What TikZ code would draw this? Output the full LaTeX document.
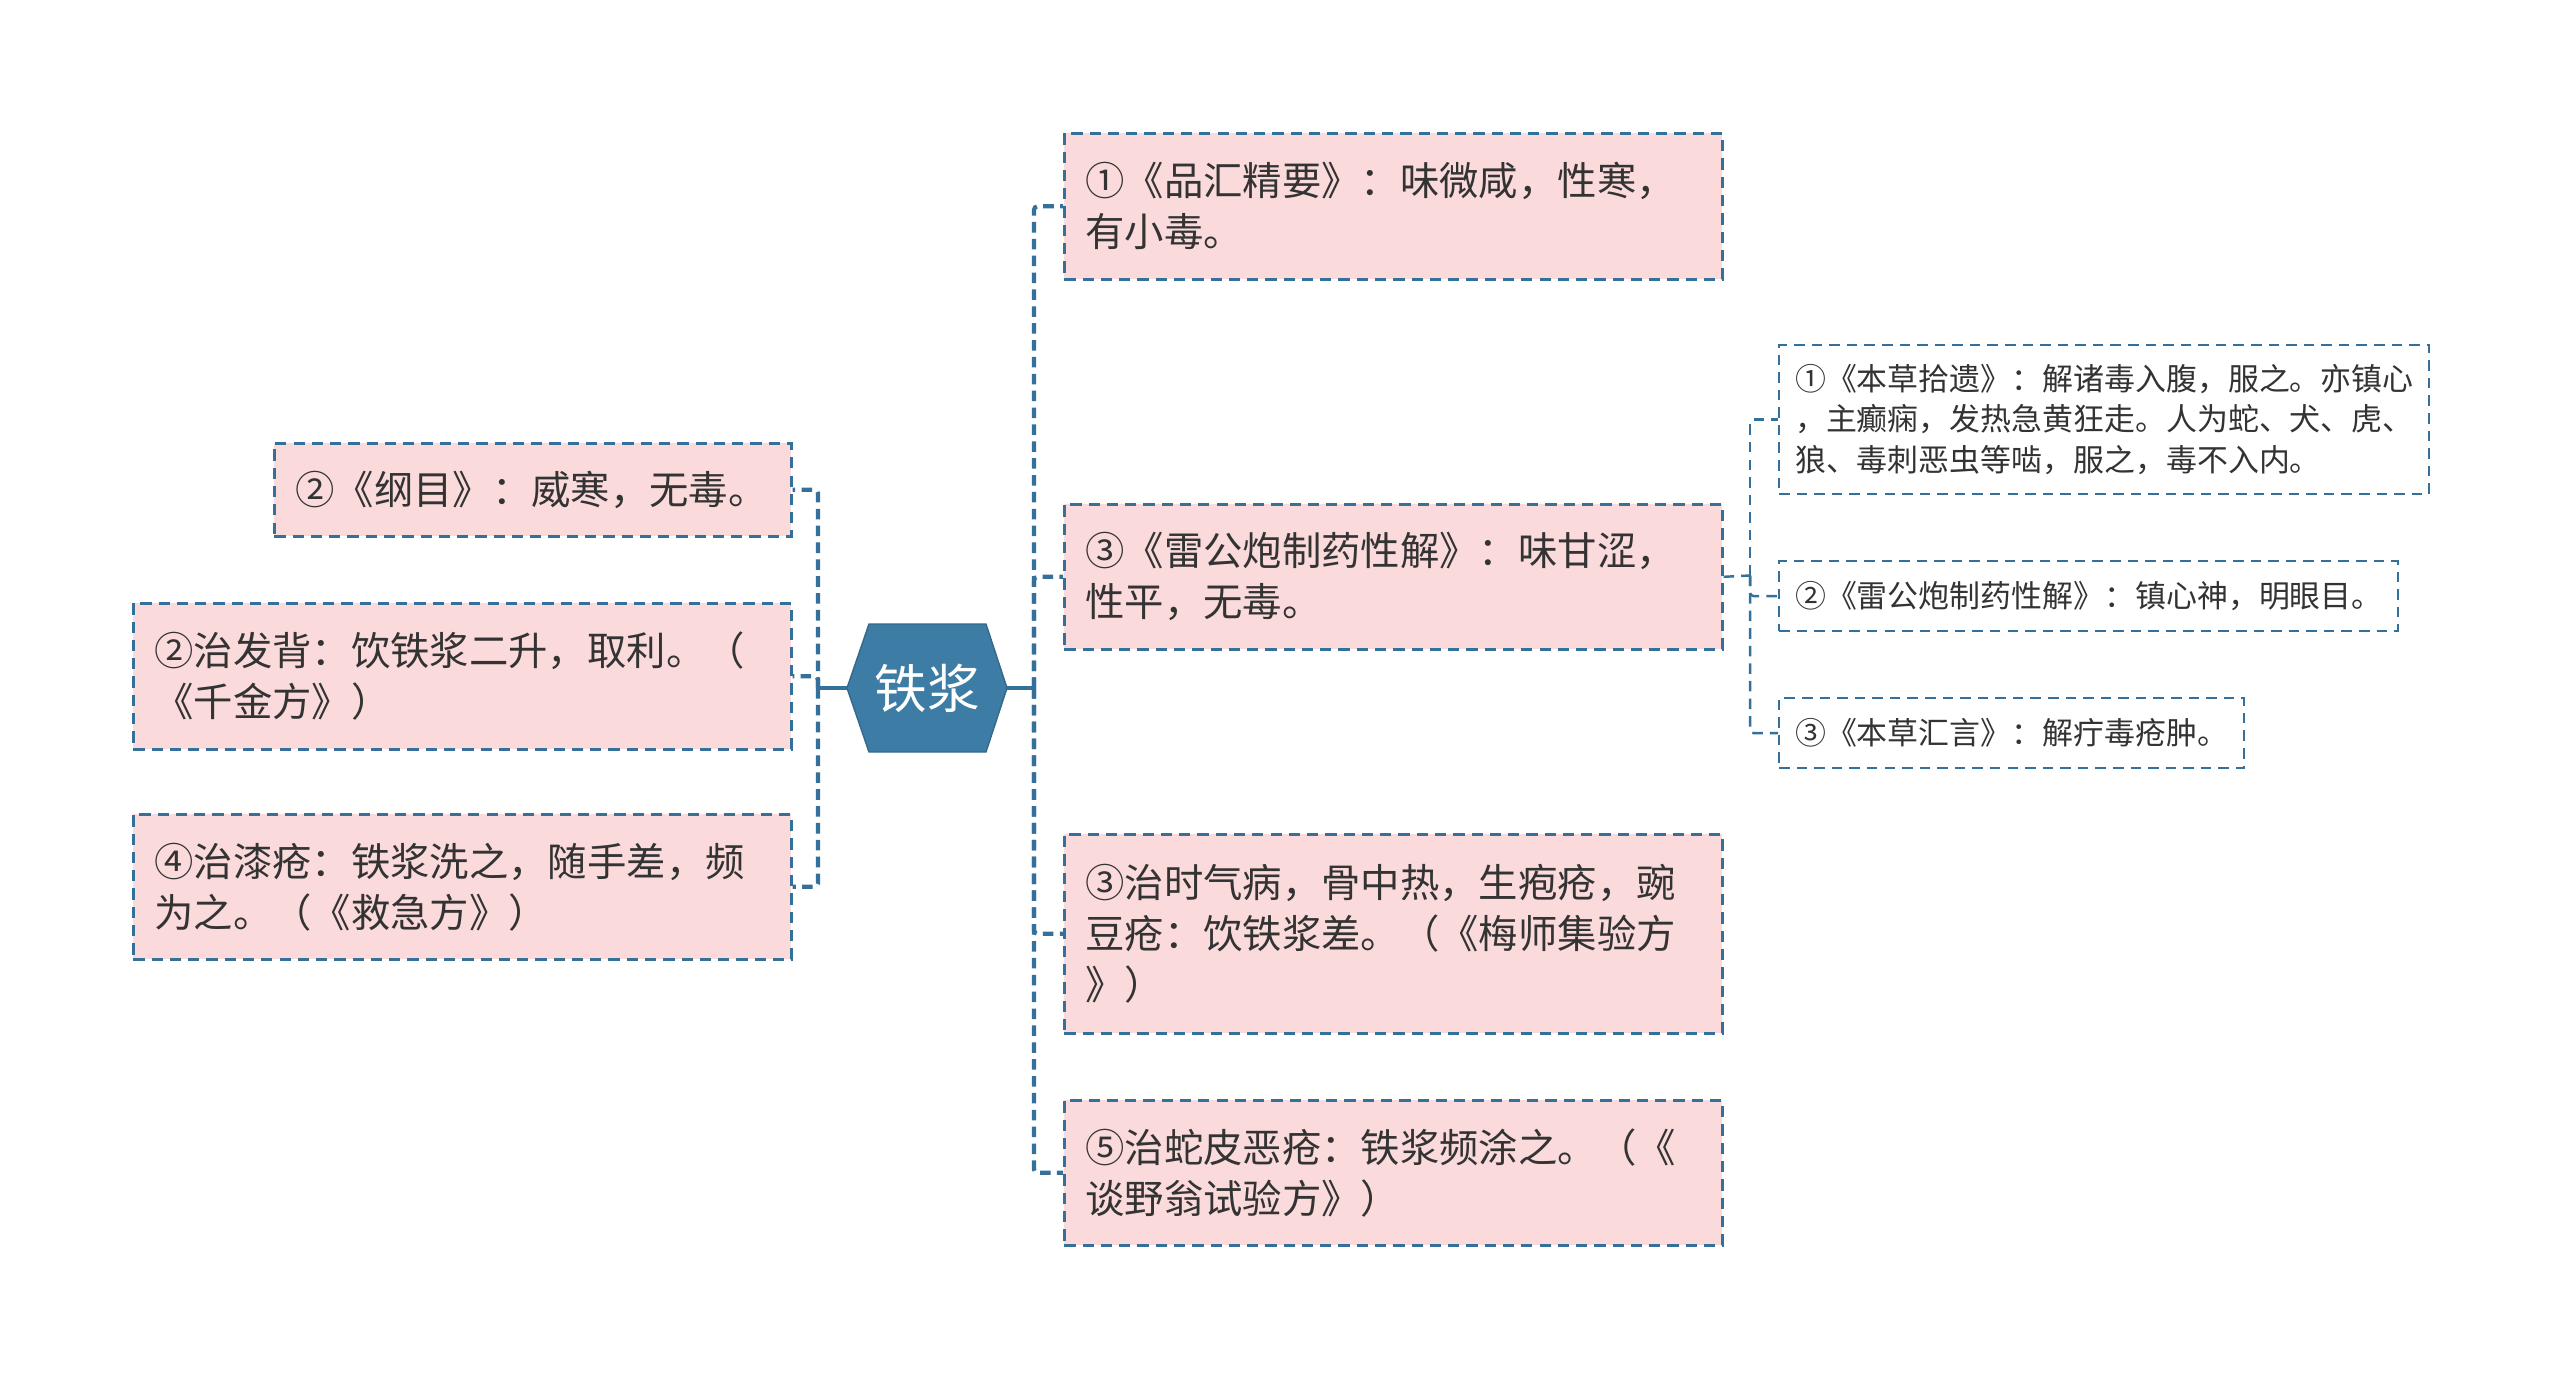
\documentclass[tikz,border=0pt]{standalone}
\usepackage{fontspec}
\setmainfont{Noto Sans CJK SC}
\usepackage{xcolor}
\usepackage{tikz}
\usetikzlibrary{calc}
\definecolor{Edge}{HTML}{34709A}
\definecolor{Petal}{HTML}{FADADB}
\definecolor{HubFill}{HTML}{3D7CA5}
\definecolor{Ink}{HTML}{333333}

\tikzset{
  leaf/.style={draw=Edge, dashed, dash pattern=on 3.2pt off 2pt, line width=0.75pt,
    fill=Petal, text=Ink, align=left, anchor=north west, inner xsep=0.21cm, inner ysep=2pt,
    font=\fontsize{11.2pt}{14.5pt}\selectfont},
  twig/.style={draw=Edge, dashed, dash pattern=on 3pt off 2pt, line width=0.6pt,
    fill=white, text=Ink, align=left, anchor=north west, inner xsep=0.16cm, inner ysep=2pt,
    font=\fontsize{8.8pt}{11.4pt}\selectfont},
  trunk/.style={draw=Edge, line width=1.2pt, dash pattern=on 3pt off 1.8pt, rounded corners=1pt},
  subtrunk/.style={draw=Edge, line width=0.7pt, dash pattern=on 3pt off 2pt, rounded corners=1pt},
  stem/.style={draw=Edge, line width=1.2pt}
}

\begin{document}
\begin{tikzpicture}
  \useasboundingbox (0,0) rectangle (25.6,-13.77);

  % central hexagon
  \coordinate (hubW) at (8.47,-6.88);
  \coordinate (hubE) at (10.07,-6.88);
  \fill[HubFill, draw=HubFill!85!black, line width=0.4pt] (hubW) -- (8.69,-6.24) -- (9.86,-6.24)
    -- (hubE) -- (9.86,-7.52) -- (8.69,-7.52) -- cycle;
  \node[text=white, font=\fontsize{15pt}{18pt}\selectfont] (hub) at (9.27,-6.88) {铁浆};

  % right column
  \node[leaf, text width=6.16cm, minimum height=1.46cm] (r1) at (10.63,-1.32)
    {①《品汇精要》：味微咸，性寒，\\有小毒。};
  \node[leaf, text width=6.16cm, minimum height=1.45cm] (r2) at (10.63,-5.03)
    {③《雷公炮制药性解》：味甘涩，\\性平，无毒。};
  \node[leaf, text width=6.16cm, minimum height=1.99cm] (r3) at (10.63,-8.33)
    {③治时气病，骨中热，生疱疮，豌\\豆疮：饮铁浆差。（《梅师集验方\\》）};
  \node[leaf, text width=6.16cm, minimum height=1.45cm] (r4) at (10.63,-10.99)
    {⑤治蛇皮恶疮：铁浆频涂之。（《\\谈野翁试验方》）};

  % left column
  \node[leaf, text width=4.75cm, minimum height=0.93cm] (l1) at (2.73,-4.42)
    {②《纲目》：威寒，无毒。};
  \node[leaf, text width=6.16cm, minimum height=1.46cm] (l2) at (1.32,-6.02)
    {②治发背：饮铁浆二升，取利。（\\《千金方》）};
  \node[leaf, text width=6.16cm, minimum height=1.45cm] (l3) at (1.32,-8.13)
    {④治漆疮：铁浆洗之，随手差，频\\为之。（《救急方》）};

  % sub-items of r2
  \node[twig, text width=6.18cm, minimum height=1.49cm] (s1) at (17.78,-3.44)
    {①《本草拾遗》：解诸毒入腹，服之。亦镇心\\，主癫痫，发热急黄狂走。人为蛇、犬、虎、\\狼、毒刺恶虫等啮，服之，毒不入内。};
  \node[twig, text width=5.87cm, minimum height=0.70cm] (s2) at (17.78,-5.60)
    {②《雷公炮制药性解》：镇心神，明眼目。};
  \node[twig, text width=4.33cm, minimum height=0.70cm] (s3) at (17.78,-6.97)
    {③《本草汇言》：解疔毒疮肿。};

  % connectors
  \coordinate (rfork) at (10.34,-6.88);
  \coordinate (lfork) at (8.18,-6.88);
  \coordinate (sfork) at (17.50,-5.755);
  \draw[stem] (hubE) -- (rfork);
  \draw[stem] (hubW) -- (lfork);
  \foreach \b in {r1,r2,r3,r4}
    \draw[trunk] (rfork) |- (\b.west);
  \foreach \b in {l1,l2,l3}
    \draw[trunk] (lfork) |- (\b.east);
  \draw[subtrunk] (r2.east) -- (sfork);
  \foreach \b in {s1,s2,s3}
    \draw[subtrunk] (sfork) |- (\b.west);
\end{tikzpicture}
\end{document}
